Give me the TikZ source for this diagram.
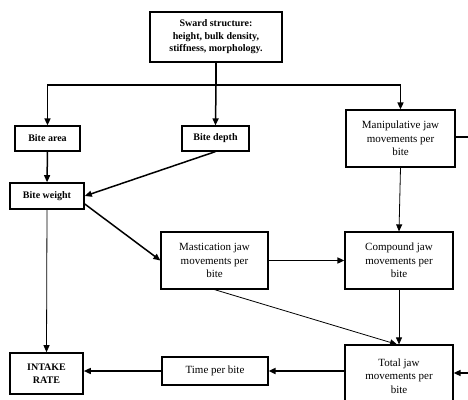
\documentclass[tikz,border=0pt]{standalone}
\usepackage{fontspec}
\setmainfont{Liberation Serif}
\usetikzlibrary{arrows.meta}
\begin{document}
\begin{tikzpicture}[x=1pt,y=-1pt,
  box/.style={draw,line width=1.2pt,rectangle,inner sep=0pt,align=center,
    font=\fontsize{11}{13.5}\selectfont},
  boldbox/.style={box,font=\fontsize{10}{12.5}\selectfont\bfseries},
  link/.style={line width=1.5pt,-{Triangle[length=7pt,width=6pt]}},
  thinlink/.style={line width=0.8pt,-{Triangle[length=7pt,width=6pt]}},
  plain/.style={line width=1.5pt}]
\useasboundingbox (0,0) rectangle (468,399);

% boxes
\node[boldbox,minimum width=132pt,minimum height=50pt] (sward) at (216,37)
  {Sward structure:\\height, bulk density,\\stiffness, morphology.};
\node[boldbox,minimum width=65pt,minimum height=25pt] (area) at (47.5,138.5) {Bite area};
\node[boldbox,minimum width=67pt,minimum height=25pt] (depth) at (215.5,138.5) {Bite depth};
\node[box,minimum width=109pt,minimum height=57pt] (manip) at (400.5,138.5)
  {Manipulative jaw\\movements per\\bite};
\node[boldbox,line width=1.6pt,minimum width=74pt,minimum height=26pt] (weight) at (47,196) {Bite weight};
\node[box,minimum width=107pt,minimum height=57pt] (mast) at (214.5,260.5)
  {Mastication jaw\\movements per\\bite};
\node[box,minimum width=108pt,minimum height=57pt] (comp) at (399,260.5)
  {Compound jaw\\movements per\\bite};
\node[box,minimum width=108pt,minimum height=62pt] (total) at (399,376)
  {Total jaw\\movements per\\bite};
\node[box,minimum width=106pt,minimum height=28pt] (time) at (215,371) {Time per bite};
\node[boldbox,line width=1.6pt,minimum width=73pt,minimum height=41pt] (intake) at (46.5,373.5)
  {INTAKE\\RATE};

% branching from the sward box
\coordinate (split) at (216,85);
\draw[plain] (sward.south) -- (split);
\draw[link] (split) -| (area.north);
\draw[link] (split) -| (manip.north);
\draw[link] (split) -- (depth.north);

% bite dimensions to bite weight
\draw[link] (area.south) -- (weight.north);
\draw[link] (depth.south) -- (weight.east);

% bite weight onwards
\draw[thinlink] (weight.south) -- (intake.north);
\draw[link] (weight.-12) -- (mast.west);

% jaw movements
\draw[link] (mast.east) -- (comp.west);
\draw[thinlink] (manip.south) -- (comp.north);
\draw[thinlink] (comp.south) -- (total.north);
\draw[thinlink] (mast.south) -- ([xshift=-2pt]total.north);
\coordinate (loopA) at (476,137);
\coordinate (loopB) at (476,373);
\draw[plain] (manip.east |- loopA) -- (loopA) -- (loopB);
\draw[link] (loopB) -- (total.east |- loopB);

% to intake rate
\draw[line width=2pt,-{Triangle[length=7pt,width=6pt]}] (total.west |- time.east) -- (time.east);
\draw[link] (time.west) -- (intake.east |- time.west);
\end{tikzpicture}
\end{document}
